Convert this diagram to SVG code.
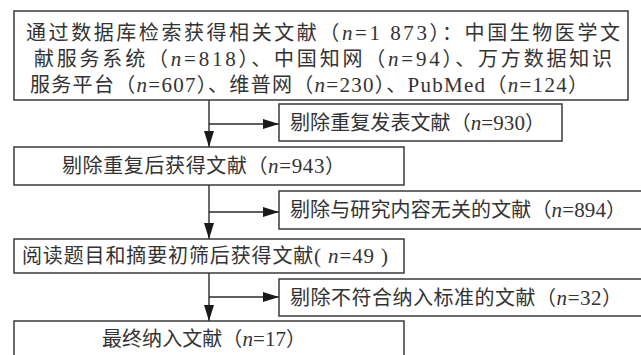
<svg xmlns="http://www.w3.org/2000/svg" width="641" height="355" viewBox="0 0 641 355">
<style>
rect{fill:#fff;stroke:#3a3a3a;stroke-width:1.5}
text{font-family:"Noto Sans CJK SC","Noto Sans",sans-serif;font-size:20px;fill:#333}
.n{font-family:"Liberation Serif",serif;font-style:italic;font-size:21px}
.d{font-family:"Liberation Serif",serif;font-size:21px}
line{stroke:#2a2a2a;stroke-width:1.4}
</style>
<defs>
<marker id="ah" markerUnits="userSpaceOnUse" markerWidth="16" markerHeight="10" refX="16" refY="5" orient="auto">
<path d="M0,0 L16,5 L0,10 z" fill="#1a1a1a"/>
</marker>
</defs>
<rect width="641" height="355" style="stroke:none"/>
<g id="connectors">
<line x1="209" y1="100" x2="209" y2="147" marker-end="url(#ah)"/>
<line x1="209" y1="124" x2="279" y2="124" marker-end="url(#ah)"/>
<line x1="209" y1="185" x2="209" y2="239" marker-end="url(#ah)"/>
<line x1="209" y1="212" x2="279" y2="212" marker-end="url(#ah)"/>
<line x1="209" y1="273" x2="209" y2="321" marker-end="url(#ah)"/>
<line x1="209" y1="297" x2="279" y2="297" marker-end="url(#ah)"/>
</g>
<g id="n1">
<rect x="14" y="11" width="614" height="89"/>
<text x="26" y="40" textLength="594" lengthAdjust="spacing">通过数据库检索获得相关文献（<tspan class="n">n</tspan><tspan class="d">=1 873</tspan>）：中国生物医学文</text>
<text x="34" y="66" textLength="578" lengthAdjust="spacing">献服务系统（<tspan class="n">n</tspan><tspan class="d">=818</tspan>）、中国知网（<tspan class="n">n</tspan><tspan class="d">=94</tspan>）、万方数据知识</text>
<text x="30" y="92" textLength="558" lengthAdjust="spacing">服务平台（<tspan class="n">n</tspan><tspan class="d">=607</tspan>）、维普网（<tspan class="n">n</tspan><tspan class="d">=230</tspan>）、<tspan class="d">PubMed</tspan>（<tspan class="n">n</tspan><tspan class="d">=124</tspan>）</text>
</g>
<g id="n2">
<rect x="279" y="104" width="283" height="37"/>
<text x="290" y="130" textLength="255" lengthAdjust="spacing">剔除重复发表文献（<tspan class="n">n</tspan><tspan class="d">=930</tspan>）</text>
</g>
<g id="n3">
<rect x="14" y="147" width="390" height="38"/>
<text x="62" y="173" textLength="283" lengthAdjust="spacing">剔除重复后获得文献（<tspan class="n">n</tspan><tspan class="d">=943</tspan>）</text>
</g>
<g id="n4">
<rect x="279" y="191" width="380" height="38"/>
<text x="290" y="217" textLength="336" lengthAdjust="spacing">剔除与研究内容无关的文献（<tspan class="n">n</tspan><tspan class="d">=894</tspan>）</text>
</g>
<g id="n5">
<rect x="14" y="239" width="390" height="34"/>
<text x="22" y="263" textLength="366" lengthAdjust="spacing">阅读题目和摘要初筛后获得文献<tspan class="d">( </tspan><tspan class="n">n</tspan><tspan class="d">=49 )</tspan></text>
</g>
<g id="n6">
<rect x="279" y="279" width="380" height="37"/>
<text x="290" y="305" textLength="332" lengthAdjust="spacing">剔除不符合纳入标准的文献（<tspan class="n">n</tspan><tspan class="d">=32</tspan>）</text>
</g>
<g id="n7">
<rect x="14" y="321" width="390" height="45"/>
<text x="102" y="346" textLength="204" lengthAdjust="spacing">最终纳入文献（<tspan class="n">n</tspan><tspan class="d">=17</tspan>）</text>
</g>
</svg>
